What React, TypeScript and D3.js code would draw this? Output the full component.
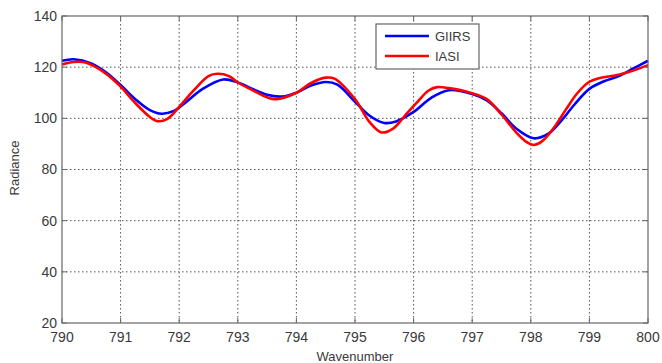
import React from "react";
import * as d3 from "d3";

const xTicks = [790, 791, 792, 793, 794, 795, 796, 797, 798, 799, 800];
const yTicks = [20, 40, 60, 80, 100, 120, 140];

const giirsX = [790.0, 790.2, 790.5, 790.75, 791.0, 791.25, 791.5, 791.7, 791.9, 792.1, 792.4, 792.75, 793.0, 793.25, 793.5, 793.75, 794.0, 794.25, 794.5, 794.7, 795.0, 795.25, 795.5, 795.7, 796.0, 796.3, 796.6, 797.0, 797.25, 797.5, 797.75, 798.05, 798.3, 798.5, 798.75, 799.0, 799.25, 799.5, 799.75, 800.0];
const giirsY = [122.5, 123.1, 121.5, 118, 113, 107.5, 103.2, 101.8, 102.8, 106, 111.5, 115.2, 114, 111.5, 109.2, 108.5, 110, 112.8, 114.2, 113.2, 106.5, 101, 98.2, 98.8, 102.5, 108, 111, 109.5, 107, 102, 96, 92.2, 94, 98.5, 105.5, 111.5, 114.5, 116.5, 119.5, 122.5];

const iasiX = [790.0, 790.2, 790.4, 790.75, 791.0, 791.25, 791.5, 791.62, 791.8, 792.0, 792.25, 792.5, 792.65, 792.85, 793.0, 793.25, 793.5, 793.65, 794.0, 794.25, 794.5, 794.65, 795.0, 795.25, 795.45, 795.65, 795.85, 796.05, 796.25, 796.4, 796.6, 797.0, 797.25, 797.5, 797.75, 797.9, 798.05, 798.2, 798.4, 798.6, 798.8, 799.0, 799.15, 799.5, 799.75, 800.0];
const iasiY = [121, 122, 121.8, 117.5, 112.4, 106, 100.5, 98.9, 99.8, 104.5, 111, 116.5, 117.4, 116.5, 114, 111, 108.2, 107.5, 110, 113.8, 115.9, 115.5, 107.5, 98.5, 94.5, 96, 101, 106, 110.8, 112.2, 111.8, 109.8, 107.5, 101.5, 94.5, 91.2, 89.6, 91.2, 96.5, 103.5, 110, 114.3, 115.6, 117, 118.7, 120.8];

const seriesNames = ["GIIRS", "IASI"];
const seriesColors = ["#0000ff", "#ff0000"];

export default function App() {
  const W = 662, H = 363;
  const left = 62, right = 648, top = 16, bottom = 323;
  const x = d3.scaleLinear().domain([790, 800]).range([left, right]);
  const y = d3.scaleLinear().domain([20, 140]).range([bottom, top]);
  const line = d3
    .line<[number, number]>()
    .x((d) => x(d[0]))
    .y((d) => y(d[1]))
    .curve(d3.curveCatmullRom.alpha(0.5));
  const giirs = giirsX.map((v, i) => [v, giirsY[i]] as [number, number]);
  const iasi = iasiX.map((v, i) => [v, iasiY[i]] as [number, number]);
  const font = "'Liberation Sans', Arial, sans-serif";
  const textColor = "#3a3a3a";
  const tl = 5;
  return (
    <svg width={W} height={H} style={{ position: "absolute", left: 0, top: 0, background: "#fff" }} fontFamily={font}>
      <rect x={0} y={0} width={W} height={H} fill="#fff" />
      {/* grid */}
      {xTicks.slice(1, -1).map((t) => (
        <line key={"gx" + t} x1={x(t)} x2={x(t)} y1={top} y2={bottom} stroke="#555" strokeWidth={1} strokeDasharray="1.5,2.5" />
      ))}
      {yTicks.slice(1, -1).map((t) => (
        <line key={"gy" + t} x1={left} x2={right} y1={y(t)} y2={y(t)} stroke="#555" strokeWidth={1} strokeDasharray="1.5,2.5" />
      ))}
      {/* series */}
      <path d={line(giirs) || ""} fill="none" stroke={seriesColors[0]} strokeWidth={2.6} strokeLinejoin="round" />
      <path d={line(iasi) || ""} fill="none" stroke={seriesColors[1]} strokeWidth={2.6} strokeLinejoin="round" />
      {/* box */}
      <rect x={left} y={top} width={right - left} height={bottom - top} fill="none" stroke="#666" strokeWidth={1.2} />
      {/* ticks */}
      {xTicks.map((t) => (
        <g key={"xt" + t}>
          <line x1={x(t)} x2={x(t)} y1={bottom} y2={bottom - tl} stroke="#666" />
          <line x1={x(t)} x2={x(t)} y1={top} y2={top + tl} stroke="#666" />
          <text x={x(t)} y={342} textAnchor="middle" fontSize={14} fill={textColor}>{t}</text>
        </g>
      ))}
      {yTicks.map((t) => (
        <g key={"yt" + t}>
          <line x1={left} x2={left + tl} y1={y(t)} y2={y(t)} stroke="#666" />
          <line x1={right} x2={right - tl} y1={y(t)} y2={y(t)} stroke="#666" />
          <text x={57} y={y(t)} dy="0.35em" textAnchor="end" fontSize={14} fill={textColor}>{t}</text>
        </g>
      ))}
      {/* axis labels */}
      <text x={(left + right) / 2} y={361} textAnchor="middle" fontSize={13} fill={textColor}>Wavenumber</text>
      <text transform={`translate(19,${168}) rotate(-90)`} textAnchor="middle" fontSize={13} fill={textColor}>Radiance</text>
      {/* legend */}
      <rect x={376} y={24} width={103} height={45} fill="#fff" stroke="#666" strokeWidth={1.2} />
      {seriesNames.map((n, i) => (
        <g key={n}>
          <line x1={385} x2={429} y1={36 + i * 20} y2={36 + i * 20} stroke={seriesColors[i]} strokeWidth={2.6} />
          <text x={435} y={36 + i * 20} dy="0.35em" fontSize={13} fill={textColor}>{n}</text>
        </g>
      ))}
    </svg>
  );
}
